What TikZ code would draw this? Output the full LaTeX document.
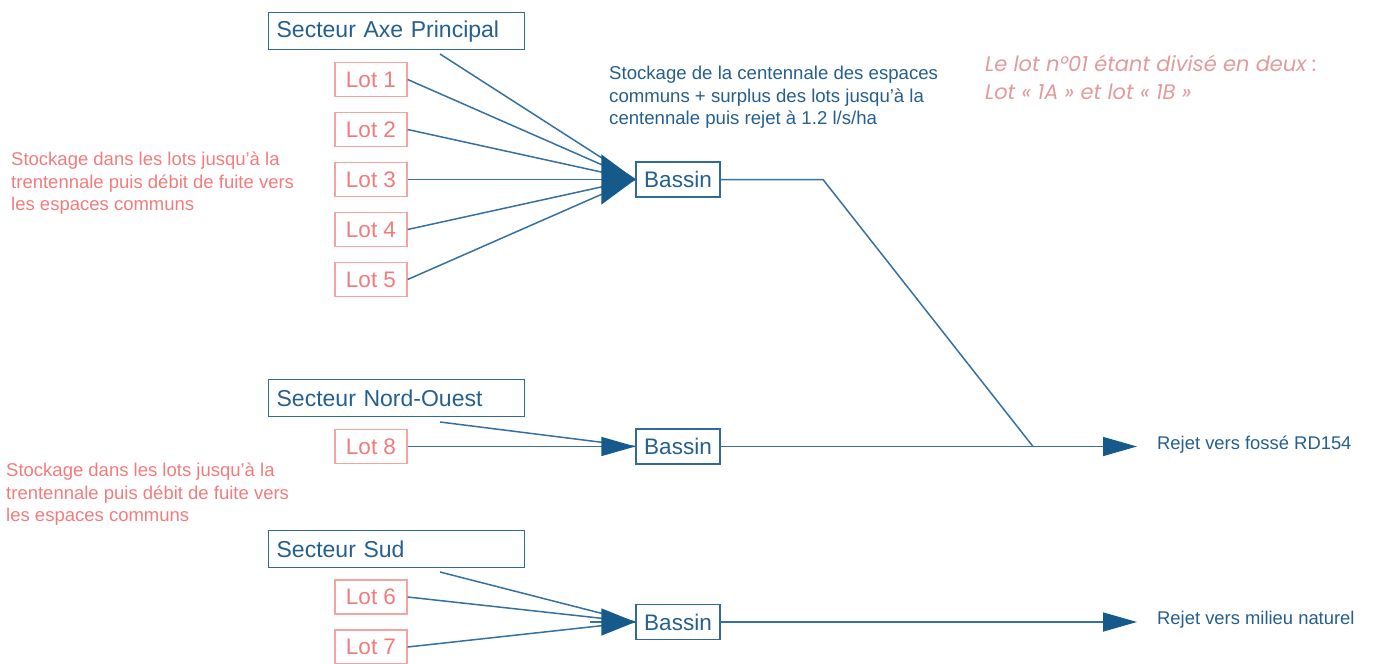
\documentclass[tikz,border=0pt]{standalone}
\usepackage{fontspec}
\setmainfont{Liberation Sans}
\newfontfamily\notefont{Poppins}
\usetikzlibrary{arrows.meta}
\definecolor{bluetxt}{HTML}{245F8E}
\definecolor{blueB}{HTML}{2F6A98}
\definecolor{lineB}{HTML}{3470A0}
\definecolor{arrowC}{HTML}{155A8A}
\definecolor{lotB}{HTML}{F4A3A0}
\definecolor{lotT}{HTML}{F07B7B}
\definecolor{redT}{HTML}{F27C7C}
\definecolor{noteT}{HTML}{E39A9B}
\tikzset{
  sect/.style={draw=blueB, line width=1.3pt, text=bluetxt, font=\fontsize{23}{27}\selectfont,
    minimum height=37pt, text width=240pt, inner xsep=8pt, inner ysep=0pt, align=left, anchor=north west},
  lot/.style={draw=lotB, line width=1.3pt, text=lotT, font=\fontsize{22.5}{27}\selectfont,
    minimum width=72pt, minimum height=34pt, inner sep=0pt},
  bassin/.style={draw=blueB, line width=1.3pt, text=bluetxt, font=\fontsize{22.5}{27}\selectfont,
    minimum width=84pt, minimum height=35pt, inner sep=0pt},
  plain/.style={draw=lineB, line width=1.5pt},
  tipw/.style={draw=lineB, line width=1.5pt, -{Triangle[length=34pt,width=#1,color=arrowC]}},
  redpara/.style={text=redT, font=\fontsize{18.5}{22.5}\selectfont, align=left, inner sep=0pt, anchor=north west},
  bluepara/.style={text=bluetxt, font=\fontsize{18.6}{22.5}\selectfont, align=left, inner sep=0pt, anchor=north west},
  rejet/.style={text=bluetxt, font=\fontsize{18.4}{22}\selectfont, inner sep=0pt, anchor=west},
  note/.style={text=noteT, font=\notefont\itshape\fontsize{21}{28}\selectfont, align=left, inner sep=0pt, anchor=north west}
}
\begin{document}
\begin{tikzpicture}[x=1pt,y=-1pt]
\useasboundingbox (0,0) rectangle (1374,664);

% group 1
\node[sect] (s1) at (268,12) {Secteur Axe Principal};
\node[lot] (l1) at (371,79.5) {Lot 1};
\node[lot] (l2) at (371,129.5) {Lot 2};
\node[lot] (l3) at (371,179.5) {Lot 3};
\node[lot] (l4) at (371,229.5) {Lot 4};
\node[lot] (l5) at (371,279.5) {Lot 5};
\node[bassin] (b1) at (678,179.5) {Bassin};
\coordinate (s1o) at (440,54);

% group 2
\node[sect] (s2) at (268,379) {Secteur Nord-Ouest};
\node[lot] (l8) at (371,446.5) {Lot 8};
\node[bassin] (b2) at (678,446.5) {Bassin};
\coordinate (s2o) at (440,422);

% group 3
\node[sect] (s3) at (268,530) {Secteur Sud};
\node[lot] (l6) at (371,597) {Lot 6};
\node[lot] (l7) at (371,647) {Lot 7};
\node[bassin] (b3) at (678,622) {Bassin};
\coordinate (s3o) at (440,572);
\coordinate (b3in) at (590,622);

% texts
\node[bluepara] (t1) at (609,66) {Stockage de la centennale des espaces\\communs + surplus des lots jusqu'à la\\centennale puis rejet à 1.2 l/s/ha};
\node[redpara] (t2) at (11,152) {Stockage dans les lots jusqu'à la\\trentennale puis débit de fuite vers\\les espaces communs};
\node[redpara] (t3) at (6,463) {Stockage dans les lots jusqu'à la\\trentennale puis débit de fuite vers\\les espaces communs};
\node[note] (t4) at (985,55) {Le lot n°01 étant divisé en deux :\\Lot « 1A » et lot « 1B »};

% outputs
\coordinate (k) at (823,179.5);
\coordinate (j) at (1033,446.5);
\coordinate (r1) at (1137,446.5);
\coordinate (r2) at (1137,622);
\node[rejet] (o1) at (1157,445) {Rejet vers fossé RD154};
\node[rejet] (o2) at (1157,620) {Rejet vers milieu naturel};

% connectors group 1
\draw[plain] (s1o) -- (b1.west);
\foreach \n in {l1,l2,l4,l5} \draw[plain] (\n.east) -- (b1.west);
\draw[tipw=50pt] (l3.east) -- (b1.west);
% group 2
\draw[plain] (s2o) -- (b2.west);
\draw[tipw=19pt] (l8.east) -- (b2.west);
% group 3
\draw[plain] (s3o) -- (b3.west);
\draw[plain] (l6.east) -- (b3.west);
\draw[plain] (l7.east) -- (b3.west);
\draw[tipw=27pt] (b3in) -- (b3.west);

% outflows
\draw[plain, line join=miter] (b1.east) -- (k) -- (j);
\draw[tipw=19pt] (b2.east) -- (r1);
\draw[tipw=19pt] (b3.east) -- (r2);
\end{tikzpicture}
\end{document}
